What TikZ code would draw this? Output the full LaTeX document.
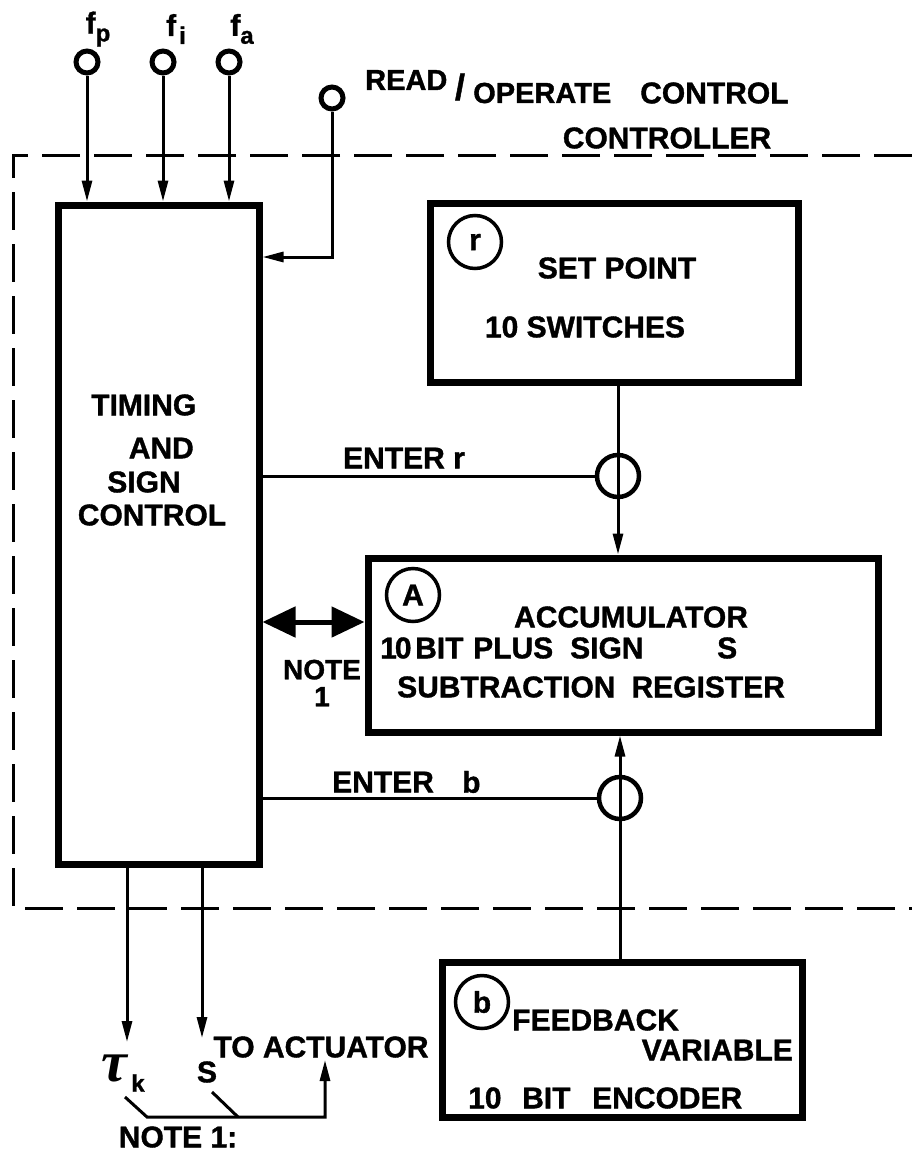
\documentclass[tikz,border=0pt]{standalone}
\usepackage{fontspec}
\setmainfont{Liberation Sans}[BoldFeatures={FakeBold=1.2}]
\newfontfamily\taufont{Liberation Serif}
\usetikzlibrary{arrows.meta}
\begin{document}
\begin{tikzpicture}[x=1pt,y=-1pt,
  lbl/.style={font=\fontsize{30}{32}\selectfont\bfseries, inner sep=0pt},
  blk/.style={draw, line width=7pt, inner sep=0pt},
  wire/.style={line width=3pt},
  tip/.style={-{Triangle[length=21pt,width=10pt]}},
  port/.style={circle, draw, line width=5pt, minimum size=22pt, inner sep=0pt},
  gate/.style={circle, draw, line width=4.5pt, minimum size=42pt, inner sep=0pt},
  tag/.style={circle, draw, line width=3.5pt, minimum size=53pt, inner sep=0pt, font=\fontsize{30}{32}\selectfont\bfseries},
  ctrl/.style={line width=3pt, dash pattern=on 38pt off 14pt},
  taust/.style={inner sep=0pt, font=\taufont\bfseries\itshape\fontsize{58}{58}\selectfont},
]
\useasboundingbox (0,0) rectangle (912,1154);

% controller boundary
\coordinate (c1) at (912,155);
\coordinate (c2) at (13,155);
\coordinate (c3) at (13,908);
\coordinate (c4) at (912,908);
\draw[ctrl] (c1) -- (c2) -- (c3) -- (c4);
\node[lbl] (ctl) at (667,138) {CONTROLLER};

% blocks
\node[blk, minimum width=201pt, minimum height=659pt] (tim) at (158.5,534.5) {};
\node[blk, minimum width=368pt, minimum height=179pt] (sp) at (614,292.5) {};
\node[blk, minimum width=510pt, minimum height=174pt] (acc) at (623,645) {};
\node[blk, minimum width=360pt, minimum height=155pt] (fb) at (622,1039.5) {};

% timing text
\node[lbl, anchor=west] (t1) at (91,405) {TIMING};
\node[lbl, anchor=east] (t2) at (194,448) {AND};
\node[lbl] (t3) at (144,482) {SIGN};
\node[lbl] (t4) at (152,515) {CONTROL};

% set point text
\node[tag] (tr) at (475,242) {r};
\node[lbl] (s1) at (617,268) {SET POINT};
\node[lbl] (s2) at (585,327) {10 SWITCHES};

% accumulator text
\node[tag] (ta) at (413,595) {A};
\node[lbl] (a1) at (631,617) {ACCUMULATOR};
\node[lbl, anchor=west] (a2a) at (380,648) {1\hspace{-2pt}0};
\node[lbl, anchor=west] (a2b) at (415,648) {BIT};
\node[lbl, anchor=west] (a2c) at (473,648) {PLUS};
\node[lbl, anchor=west] (a2d) at (570,648) {SIGN};
\node[lbl, anchor=west] (a2e) at (717,648) {S};
\node[lbl, anchor=west] (a3) at (397,687) {SUBTRACTION\hspace{16pt}REGISTER};

% feedback text
\node[tag] (tb) at (482,1002) {b};
\node[lbl, anchor=west] (f1) at (512,1020) {FEEDBACK};
\node[lbl, anchor=east] (f2) at (793,1050) {VARIABLE};
\node[lbl, anchor=west] (f3a) at (468,1098) {10};
\node[lbl, anchor=west] (f3b) at (522,1098) {BIT};
\node[lbl, anchor=west] (f3c) at (592,1098) {ENCODER};

% inputs
\node[port] (fp) at (87,62) {};
\node[port] (fi) at (163,62) {};
\node[port] (fa) at (229,62) {};
\node[port] (rd) at (332,98) {};
\node[lbl] (lfp) at (98,29) {f\raisebox{-8pt}{\fontsize{24}{24}\selectfont p}};
\node[lbl] (lfi) at (176,29) {f\hspace{3pt}\raisebox{-8pt}{\fontsize{24}{24}\selectfont i}};
\node[lbl] (lfa) at (242,29) {f\raisebox{-8pt}{\fontsize{24}{24}\selectfont a}};
\draw[wire,tip] (fp) -- (fp |- tim.north);
\draw[wire,tip] (fi) -- (fi |- tim.north);
\draw[wire,tip] (fa) -- (fa |- tim.north);
\coordinate (rdc) at (332,257);
\draw[wire,tip] (rd) -- (rdc) -- (rdc -| tim.east);
\node[lbl, anchor=west, font=\fontsize{29}{30}\selectfont\bfseries] (lrd) at (365,80) {READ};
\node[lbl, font=\fontsize{36}{36}\selectfont\bfseries] (lsl) at (460,87) {/};
\node[lbl, anchor=west, font=\fontsize{29}{30}\selectfont\bfseries] (lop) at (473,93) {OPERATE};
\node[lbl, anchor=west] (lco) at (640,93) {CONTROL};

% gates
\node[gate] (gr) at (618,476) {};
\node[gate] (gb) at (620,798) {};
\draw[wire,tip] (gr |- sp.south) -- (gr |- acc.north);
\draw[wire] (tim.east |- gr) -- (gr.west);
\node[lbl] (er) at (404,458) {ENTER r};
\draw[wire,tip] (gb |- fb.north) -- (gb |- acc.south);
\draw[wire] (tim.east |- gb) -- (gb.west);
\node[lbl, anchor=west] (eb) at (332,782) {ENTER};
\node[lbl, anchor=west] (eb2) at (462,782) {b};

% note 1 double arrow
\coordinate (na) at (0,622);
\draw[line width=5pt, {Triangle[length=33pt,width=30pt]}-{Triangle[length=33pt,width=30pt]}] (tim.east |- na) -- (acc.west |- na);
\node[lbl, align=center, font=\fontsize{28}{27}\selectfont\bfseries] (n1) at (322,683) {NOTE\\1};

% outputs
\coordinate (tk) at (127,1042);
\coordinate (so) at (202,1038);
\draw[wire,tip] (tk |- tim.south) -- (tk);
\draw[wire,tip] (so |- tim.south) -- (so);
\node[taust] (ltau) at (114,1068) {τ};
\node[lbl, font=\fontsize{24}{24}\selectfont\bfseries] (ltk) at (138,1083) {k};
\node[lbl] (ls) at (207,1072) {S};
\node[lbl] (lta) at (321,1047) {TO ACTUATOR};
\coordinate (b1) at (125,1097);
\coordinate (b2) at (147,1117);
\coordinate (b3) at (325,1117);
\coordinate (b4) at (325,1060);
\coordinate (b5) at (212,1092);
\coordinate (b6) at (238,1117);
\draw[wire,tip] (b1) -- (b2) -- (b3) -- (b4);
\draw[wire] (b5) -- (b6);
\node[lbl] (n2) at (178,1137) {NOTE 1:};
\end{tikzpicture}
\end{document}
